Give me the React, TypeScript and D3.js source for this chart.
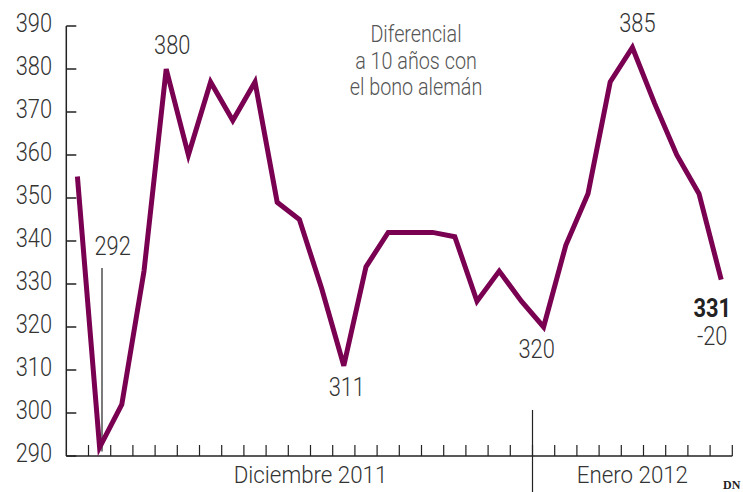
import React from "react";
import * as d3 from "d3";

// diferencial diario (puntos básicos)
const spread = [
  355, 292, 302, 333, 380, 360, 377, 368, 377, 349, 345, 329, 311, 334, 342,
  342, 342, 341, 326, 333, 326, 320, 339, 351, 377, 385, 372, 360, 351, 331,
];
const monthLabels = ["Diciembre 2011", "Enero 2012"];
const monthDays = [21, 9];
const yTicks = [290, 300, 310, 320, 330, 340, 350, 360, 370, 380, 390];
const noteLines = ["Diferencial", "a 10 años con", "el bono alemán"];
const lastChange = -20;

// etiquetas de valores destacados
const highlights = [
  { i: 4, dx: 6, dy: -15 },
  { i: 12, dx: 3, dy: 30 },
  { i: 21, dx: -7, dy: 31 },
  { i: 25, dx: 5, dy: -16 },
];

const W = 743;
const H = 492;
const FONT = "Roboto, 'Noto Sans', sans-serif";
const LINE = "#7a0052";
const TEXT = "#333";

// texto estrecho, imitando una tipografía condensada
function NText({
  x,
  y,
  size = 26,
  anchor = "middle",
  weight = 300,
  fill = TEXT,
  sx = 0.84,
  children,
}: {
  x: number;
  y: number;
  size?: number;
  anchor?: "start" | "middle" | "end";
  weight?: number | string;
  fill?: string;
  sx?: number;
  children: React.ReactNode;
}) {
  return (
    <text
      transform={`translate(${x},${y}) scale(${sx},1)`}
      textAnchor={anchor}
      fontSize={size}
      fontWeight={weight}
      fill={fill}
    >
      {children}
    </text>
  );
}

export default function App() {
  const n = spread.length;
  const x = d3
    .scaleBand<number>()
    .domain(d3.range(n))
    .range([66.3, 732.3])
    .padding(0);
  const bw = x.bandwidth();
  const cx = (i: number) => (x(i) as number) + bw / 2;

  const y = d3.scaleLinear().domain([290, 390]).range([456, 26]);
  const x0 = x(0) as number;

  const line = d3
    .line<number>()
    .x((_, i) => cx(i))
    .y((d) => y(d));

  const splitIdx = monthDays[0];
  const monthCenters = [11, 25.5];
  const last = n - 1;

  return (
    <svg
      width={W}
      height={H}
      style={{ position: "absolute", left: 0, top: 0, background: "#fff" }}
      fontFamily={FONT}
    >
      {/* eje Y */}
      <line x1={x0} x2={x0} y1={y(390)} y2={y(290)} stroke="#222" strokeWidth={1.5} />
      {yTicks.map((t) => (
        <g key={t}>
          <line x1={x0} x2={x0 + 10} y1={y(t)} y2={y(t)} stroke="#222" strokeWidth={1.5} />
          <NText x={52} y={y(t) + 6} anchor="end">
            {t}
          </NText>
        </g>
      ))}

      {/* eje X */}
      <line x1={x0} x2={x0 + bw * n} y1={y(290)} y2={y(290)} stroke="#222" strokeWidth={1.5} />
      {d3.range(1, n + 1).map((k) => (
        <line
          key={k}
          x1={x0 + bw * k}
          x2={x0 + bw * k}
          y1={y(290)}
          y2={y(290) - 11}
          stroke="#222"
          strokeWidth={1.2}
        />
      ))}
      <line
        x1={x(splitIdx)}
        x2={x(splitIdx)}
        y1={410}
        y2={H}
        stroke="#222"
        strokeWidth={1.2}
      />
      {monthLabels.map((m, j) => (
        <NText key={m} x={x0 + bw * monthCenters[j]} y={483} size={24} sx={0.93}>
          {m}
        </NText>
      ))}

      {/* nota */}
      {noteLines.map((t, j) => (
        <NText key={t} x={416} y={42 + j * 26.7} size={23} fill="#555" sx={0.86}>
          {t}
        </NText>
      ))}

      {/* mínimo 292 con guía */}
      <line x1={102} x2={102} y1={268} y2={y(spread[1]) + 4} stroke="#222" strokeWidth={1.2} />
      <NText x={cx(1) + 13} y={255}>
        {spread[1]}
      </NText>

      <path
        d={line(spread) || ""}
        fill="none"
        stroke={LINE}
        strokeWidth={5}
        strokeLinejoin="miter"
        strokeLinecap="butt"
      />

      {highlights.map((h) => (
        <NText key={h.i} x={cx(h.i) + h.dx} y={y(spread[h.i]) + h.dy}>
          {spread[h.i]}
        </NText>
      ))}

      {/* último valor y variación */}
      <NText x={cx(last) - 9} y={317} weight="bold" fill="#222">
        {spread[last]}
      </NText>
      <NText x={cx(last) - 9} y={345}>
        {lastChange}
      </NText>

      <text x={723} y={489} fontSize={12} fontWeight="bold" fontFamily="'Liberation Serif', serif" fill="#222">
        DN
      </text>
    </svg>
  );
}
